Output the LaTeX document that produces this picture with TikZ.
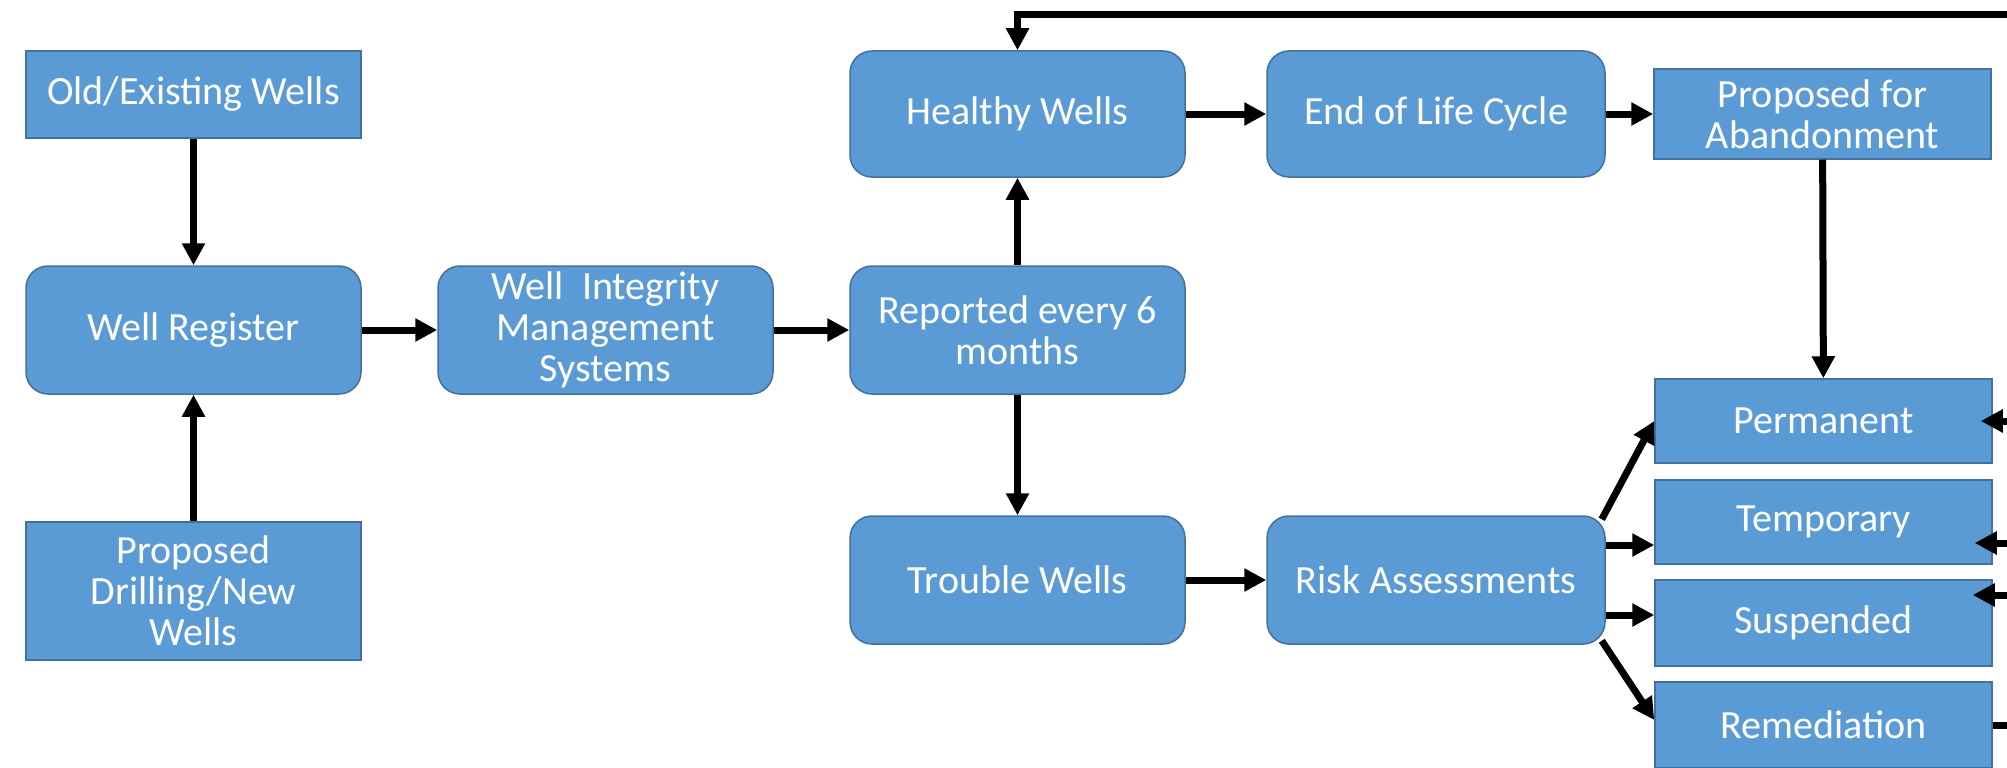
\documentclass[tikz,border=0pt]{standalone}
\usepackage{fontspec}
\setmainfont{Carlito}
\usepackage{xcolor}
\definecolor{wellblue}{RGB}{91,155,213}
\definecolor{welledge}{RGB}{65,113,156}
\usetikzlibrary{arrows.meta}

\begin{document}
\begin{tikzpicture}[x=1pt, y=-1pt,
    box/.style={draw=welledge, line width=1.5pt, fill=wellblue, text=white,
        align=center, inner sep=0pt, minimum width=335pt, minimum height=128pt,
        font=\fontsize{40}{41}\selectfont},
    rbox/.style={box, rounded corners=22pt},
    flow/.style={-{Triangle[length=22pt,width=22pt]}, line width=7pt},
]
\useasboundingbox (0,0) rectangle (2007,768);

%% --- left column ---
\node[box, minimum height=87pt] (old) at (193.5,94.5) {Old/Existing Wells};
\node[rbox] (reg) at (193.5,330) {Well Register};
\node[box, minimum height=138pt] (drill) at (193.5,591) {Proposed\\Drilling/New\\Wells};

%% --- middle ---
\node[rbox] (wims) at (605.5,330) {Well\ \ Integrity\\Management\\Systems};
\node[rbox] (rep) at (1017.5,330) {Reported every 6\\months};
\node[rbox, minimum height=126pt] (healthy) at (1017.5,114) {Healthy Wells};
\node[rbox] (trouble) at (1017.5,580) {Trouble Wells};
\node[rbox, minimum width=338pt, minimum height=126pt] (eol) at (1436,114) {End of Life Cycle};
\node[rbox, minimum width=338pt] (risk) at (1436,580) {Risk Assessments};

%% --- right column ---
\node[box, minimum width=337pt, minimum height=90pt] (aband) at (1822.5,114) {Proposed for\\Abandonment};
\node[box, minimum width=337pt, minimum height=84pt] (perm) at (1823.5,421) {Permanent};
\node[box, minimum width=337pt, minimum height=84pt] (temp) at (1823.5,522) {Temporary};
\node[box, minimum width=337pt, minimum height=86pt] (susp) at (1823.5,623) {Suspended};
\node[box, minimum width=337pt, minimum height=86pt] (remed) at (1823.5,725) {Remediation};

%% --- loose ends at the right edge ---
\coordinate (edgeTop) at (2007,15);
\coordinate (edgeP) at (2007,421);
\coordinate (edgeT) at (2007,543);
\coordinate (edgeS) at (2007,595);
\coordinate (edgeR) at (2007,725);

%% --- connectors ---
\draw[flow] (old) -- (reg);
\draw[flow] (drill) -- (reg);
\draw[flow] (reg) -- (wims);
\draw[flow] (wims) -- (rep);
\draw[flow] (rep) -- (healthy);
\draw[flow] (rep) -- (trouble);
\draw[flow] (healthy) -- (eol);
\draw[flow] (eol) -- (aband);
\draw[flow] (aband) -- (perm);
\draw[flow] (trouble) -- (risk);

\draw[flow] ([xshift=-4pt,yshift=-4pt]risk.north east) -- (perm.west);
\draw[flow] ([yshift=35pt]risk.east) -- ([yshift=35pt]risk.east -| temp.west);
\draw[flow] ([yshift=-35pt]risk.east) -- ([yshift=-35pt]risk.east -| susp.west);
\draw[flow] ([xshift=-4pt,yshift=4pt]risk.south east) -- ([yshift=5pt]remed.west);

\draw[flow] (edgeTop) -| (healthy.north);
\draw[flow] (edgeP) -- ([xshift=-12pt]perm.east);
\draw[flow] (edgeT) -- ([xshift=-18pt]edgeT -| temp.east);
\draw[flow] (edgeS) -- ([xshift=-20pt]edgeS -| susp.east);
\draw[line width=7pt] (remed.east) -- (edgeR);

\end{tikzpicture}
\end{document}
